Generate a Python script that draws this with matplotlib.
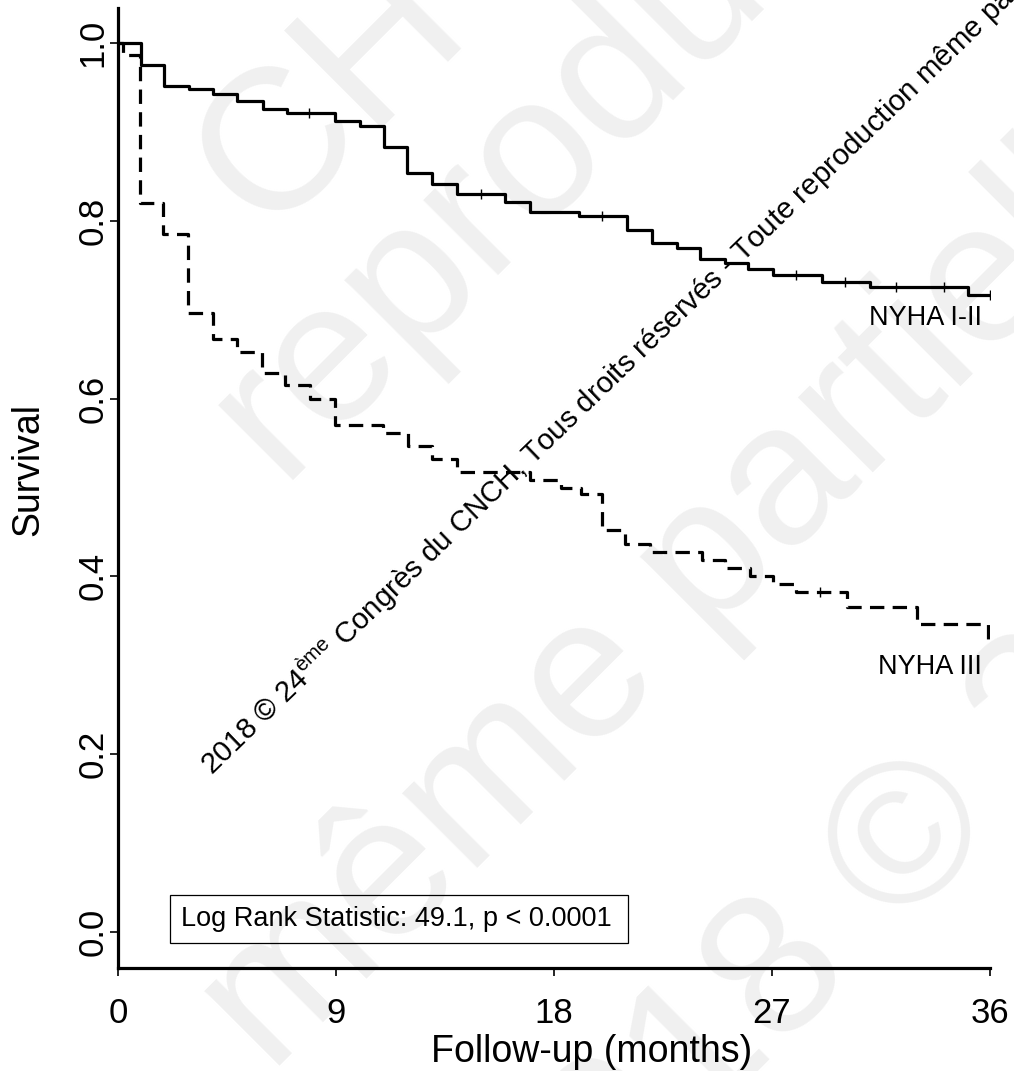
import matplotlib
matplotlib.use("Agg")
import matplotlib.pyplot as plt
from matplotlib.patches import Rectangle
import numpy as np

# Kaplan-Meier steps (months, survival after the step)
t_nyha12 = [0, 0.93, 1.91, 2.95, 3.94, 4.93, 5.97, 6.96, 8.97, 10.0, 10.98, 11.92,
            12.98, 14.0, 15.98, 17.0, 19.03, 21.0, 22.03, 23.06, 24.03, 25.06, 26.0,
            27.06, 29.05, 31.05, 35.1, 36.0]
s_nyha12 = [1.0, 0.975, 0.952, 0.948, 0.943, 0.935, 0.926, 0.921, 0.912, 0.907, 0.883,
            0.854, 0.841, 0.830, 0.821, 0.810, 0.805, 0.790, 0.775, 0.769, 0.757, 0.752,
            0.746, 0.739, 0.731, 0.725, 0.717, 0.717]
cens_nyha12 = [7.9, 15.0, 20.0, 28.0, 30.0, 32.1, 34.1, 36.0]

t_nyha3 = [0, 0.2, 0.91, 1.87, 2.9, 3.93, 4.9, 5.93, 6.9, 7.93, 8.96, 10.95, 11.98,
           12.95, 13.98, 17.0, 18.3, 19.1, 20.0, 20.93, 21.97, 24.1, 25.06, 26.1,
           27.06, 28.0, 30.08, 32.97, 35.9, 36.0]
s_nyha3 = [1.0, 0.987, 0.820, 0.785, 0.696, 0.667, 0.652, 0.629, 0.615, 0.600, 0.570,
           0.561, 0.547, 0.532, 0.517, 0.508, 0.500, 0.493, 0.452, 0.436, 0.428, 0.418,
           0.410, 0.400, 0.392, 0.383, 0.366, 0.346, 0.327, 0.327]
cens_nyha3 = [29.0]

x_ticks = [0, 9, 18, 27, 36]
y_ticks = [0.0, 0.2, 0.4, 0.6, 0.8, 1.0]

plt.rcParams["font.family"] = ["Liberation Sans", "DejaVu Sans"]
plt.rcParams["mathtext.fontset"] = "custom"
plt.rcParams["mathtext.rm"] = "Liberation Sans"


def surv_at(times, surv, t):
    idx = np.searchsorted(times, t, side="right") - 1
    return np.asarray(surv)[idx]


W, H = 1014, 1071
fig = plt.figure(figsize=(W / 100, H / 100), dpi=100)

# faint background watermark (behind the axes)
wm_color = "#f0f0f0"
for txt, x, y in [("CH", 265, 235), ("reproduction", 280, 480),
                  ("même partielle", 270, 1075), ("2018 © 24", 540, 1290)]:
    fig.text(x / W, 1 - y / H, txt, fontsize=145, color=wm_color,
             rotation=45, rotation_mode="anchor",
             ha="left", va="baseline", zorder=-1)

ax = fig.add_axes([118 / W, 1 - 968 / H, 872 / W, 960 / H])
ax.set_facecolor("none")

ax.step(t_nyha12, s_nyha12, where="post", color="black", lw=2.3)
ax.plot(cens_nyha12, surv_at(t_nyha12, s_nyha12, cens_nyha12), ls="none",
        marker="|", ms=7, mew=1.0, color="black")
ax.step(t_nyha3, s_nyha3, where="post", color="black", lw=2.3,
        linestyle=(0, (4.5, 2.6)))
ax.plot(cens_nyha3, surv_at(t_nyha3, s_nyha3, cens_nyha3), ls="none",
        marker="|", ms=7, mew=1.0, color="black")

ax.set_xlim(0, 36)
ax.set_ylim(-0.0405, 1.0394)
ax.set_xticks(x_ticks)
ax.set_yticks(y_ticks)
ax.set_xticklabels([str(v) for v in x_ticks], fontsize=25)
ax.set_yticklabels([f"{v:.1f}" for v in y_ticks], fontsize=25, rotation=90,
                   va="center")
ax.tick_params(direction="out", length=6, width=1.2)
ax.tick_params(axis="x", pad=15)
ax.tick_params(axis="y", pad=0)

for side in ["top", "right"]:
    ax.spines[side].set_visible(False)
ax.spines["left"].set_linewidth(2.3)
ax.spines["bottom"].set_linewidth(2.3)

ax.set_xlabel("Follow-up (months)", fontsize=27)
ax.xaxis.set_label_coords(0.5436, -0.069)
ax.set_ylabel("Survival", fontsize=27)
ax.yaxis.set_label_coords(-0.082, 0.519)

ax.text(35.67, 0.691, "NYHA I-II", fontsize=19.5, ha="right", va="center")
ax.text(35.67, 0.298, "NYHA III", fontsize=19.5, ha="right", va="center")

# log-rank box
ax.add_patch(Rectangle((2.15, -0.0124), 18.9, 0.054, fill=False,
                       ec="black", lw=0.9, zorder=3))
ax.text(2.6, 0.0146, "Log Rank Statistic: 49.1, p < 0.0001", fontsize=19.5,
        ha="left", va="center", zorder=4)

# diagonal copyright line
fig.text(212 / W, 1 - 776 / H,
         "2018 © 24$^{\\mathrm{ème}}$ Congrès du CNCH, Tous droits réservés - "
         "Toute reproduction même partielle",
         fontsize=21.2, color="black", rotation=44,
         rotation_mode="anchor", ha="left", va="baseline", zorder=5)

fig.savefig("out.png", dpi=100)
